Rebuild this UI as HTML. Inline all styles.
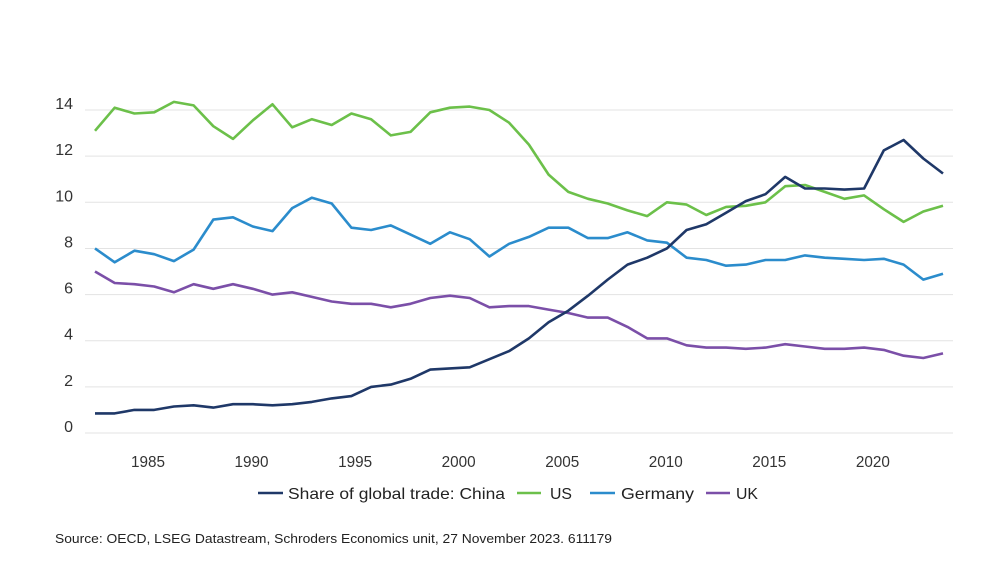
<!DOCTYPE html>
<html><head><meta charset="utf-8"><style>
html,body{margin:0;padding:0;background:#fff;}
svg{display:block;font-family:"Liberation Sans",sans-serif;}
</style></head><body>
<svg id="chart" width="993" height="564" viewBox="0 0 993 564" xmlns="http://www.w3.org/2000/svg">
<g id="grid"></g>
<g id="yticks"></g>
<g id="xticks"></g>
<g id="series"></g>
<g id="legend">
  <line x1="258" y1="493" x2="283" y2="493" stroke="#1f3868" stroke-width="2.5"/>
  <text x="288" y="499" font-size="16" fill="#222" textLength="217" lengthAdjust="spacingAndGlyphs">Share of global trade: China</text>
  <line x1="517" y1="493" x2="541" y2="493" stroke="#6cc04a" stroke-width="2.5"/>
  <text x="550" y="499" font-size="16" fill="#222" textLength="22" lengthAdjust="spacingAndGlyphs">US</text>
  <line x1="590" y1="493" x2="615" y2="493" stroke="#2b8ccc" stroke-width="2.5"/>
  <text x="621" y="499" font-size="16" fill="#222" textLength="73" lengthAdjust="spacingAndGlyphs">Germany</text>
  <line x1="706" y1="493" x2="730" y2="493" stroke="#7b4fa8" stroke-width="2.5"/>
  <text x="736" y="499" font-size="16" fill="#222" textLength="22" lengthAdjust="spacingAndGlyphs">UK</text>
</g>
<text x="55" y="543" font-size="12.5" fill="#222" textLength="557" lengthAdjust="spacingAndGlyphs">Source: OECD, LSEG Datastream, Schroders Economics unit, 27 November 2023. 611179</text>
</svg>
<script>
const yTicks = [0, 2, 4, 6, 8, 10, 12, 14];
const xTickYears = [1985, 1990, 1995, 2000, 2005, 2010, 2015, 2020];
const china = [0.85,0.85,1.0,1.0,1.15,1.2,1.1,1.25,1.25,1.2,1.25,1.35,1.5,1.6,2.0,2.1,2.35,2.75,2.8,2.85,3.2,3.55,4.1,4.8,5.3,5.95,6.65,7.3,7.6,8.0,8.8,9.05,9.55,10.05,10.35,11.1,10.6,10.6,10.55,10.6,12.25,12.7,11.9,11.25];
const us = [13.1,14.1,13.85,13.9,14.35,14.2,13.3,12.75,13.55,14.25,13.25,13.6,13.35,13.85,13.6,12.9,13.05,13.9,14.1,14.15,14.0,13.45,12.5,11.2,10.45,10.15,9.95,9.65,9.4,10.0,9.9,9.45,9.8,9.85,10.0,10.7,10.75,10.45,10.15,10.3,9.7,9.15,9.6,9.85];
const germany = [8.0,7.4,7.9,7.75,7.45,7.95,9.25,9.35,8.95,8.75,9.75,10.2,9.95,8.9,8.8,9.0,8.6,8.2,8.7,8.4,7.65,8.2,8.5,8.9,8.9,8.45,8.45,8.7,8.35,8.25,7.6,7.5,7.25,7.3,7.5,7.5,7.7,7.6,7.55,7.5,7.55,7.3,6.65,6.9];
const uk = [7.0,6.5,6.45,6.35,6.1,6.45,6.25,6.45,6.25,6.0,6.1,5.9,5.7,5.6,5.6,5.45,5.6,5.85,5.95,5.85,5.45,5.5,5.5,5.35,5.2,5.0,5.0,4.6,4.1,4.1,3.8,3.7,3.7,3.65,3.7,3.85,3.75,3.65,3.65,3.7,3.6,3.35,3.25,3.45];

const NS = "http://www.w3.org/2000/svg";
const yScale = v => 433 - v * 23.07;
const xIdx = (i, n) => 95 + i * (943 - 95) / (n - 1);
const xYear = yr => 148 + (yr - 1985) * 20.71;

const grid = document.getElementById('grid');
const yt = document.getElementById('yticks');
yTicks.forEach(v => {
  const l = document.createElementNS(NS, 'line');
  l.setAttribute('x1', 85); l.setAttribute('x2', 953);
  l.setAttribute('y1', yScale(v)); l.setAttribute('y2', yScale(v));
  l.setAttribute('stroke', '#e3e3e3'); l.setAttribute('stroke-width', '1');
  
  
  grid.appendChild(l);
  const t = document.createElementNS(NS, 'text');
  t.setAttribute('x', 73); t.setAttribute('y', yScale(v) - 1);
  t.setAttribute('text-anchor', 'end'); t.setAttribute('font-size', '16');
  t.setAttribute('fill', '#333');
  t.textContent = v;
  
  
  yt.appendChild(t);
});
const xt = document.getElementById('xticks');
xTickYears.forEach(yr => {
  const t = document.createElementNS(NS, 'text');
  t.setAttribute('x', xYear(yr)); t.setAttribute('y', 467);
  t.setAttribute('text-anchor', 'middle'); t.setAttribute('font-size', '16');
  t.setAttribute('fill', '#333');
  t.setAttribute('textLength', '34'); t.setAttribute('lengthAdjust', 'spacingAndGlyphs');
  t.textContent = yr;
  
  
  xt.appendChild(t);
});
const sg = document.getElementById('series');
function drawLine(arr, color, name) {
  const p = document.createElementNS(NS, 'polyline');
  p.setAttribute('points', arr.map((v, i) => xIdx(i, arr.length).toFixed(1) + ',' + yScale(v).toFixed(1)).join(' '));
  p.setAttribute('fill', 'none'); p.setAttribute('stroke', color);
  p.setAttribute('stroke-width', '2.6'); p.setAttribute('stroke-linejoin', 'round');
  
  
  sg.appendChild(p);
}
drawLine(uk, '#7b4fa8', 'line-uk');
drawLine(germany, '#2b8ccc', 'line-germany');
drawLine(us, '#6cc04a', 'line-us');
drawLine(china, '#1f3868', 'line-china');
</script>
</body></html>
